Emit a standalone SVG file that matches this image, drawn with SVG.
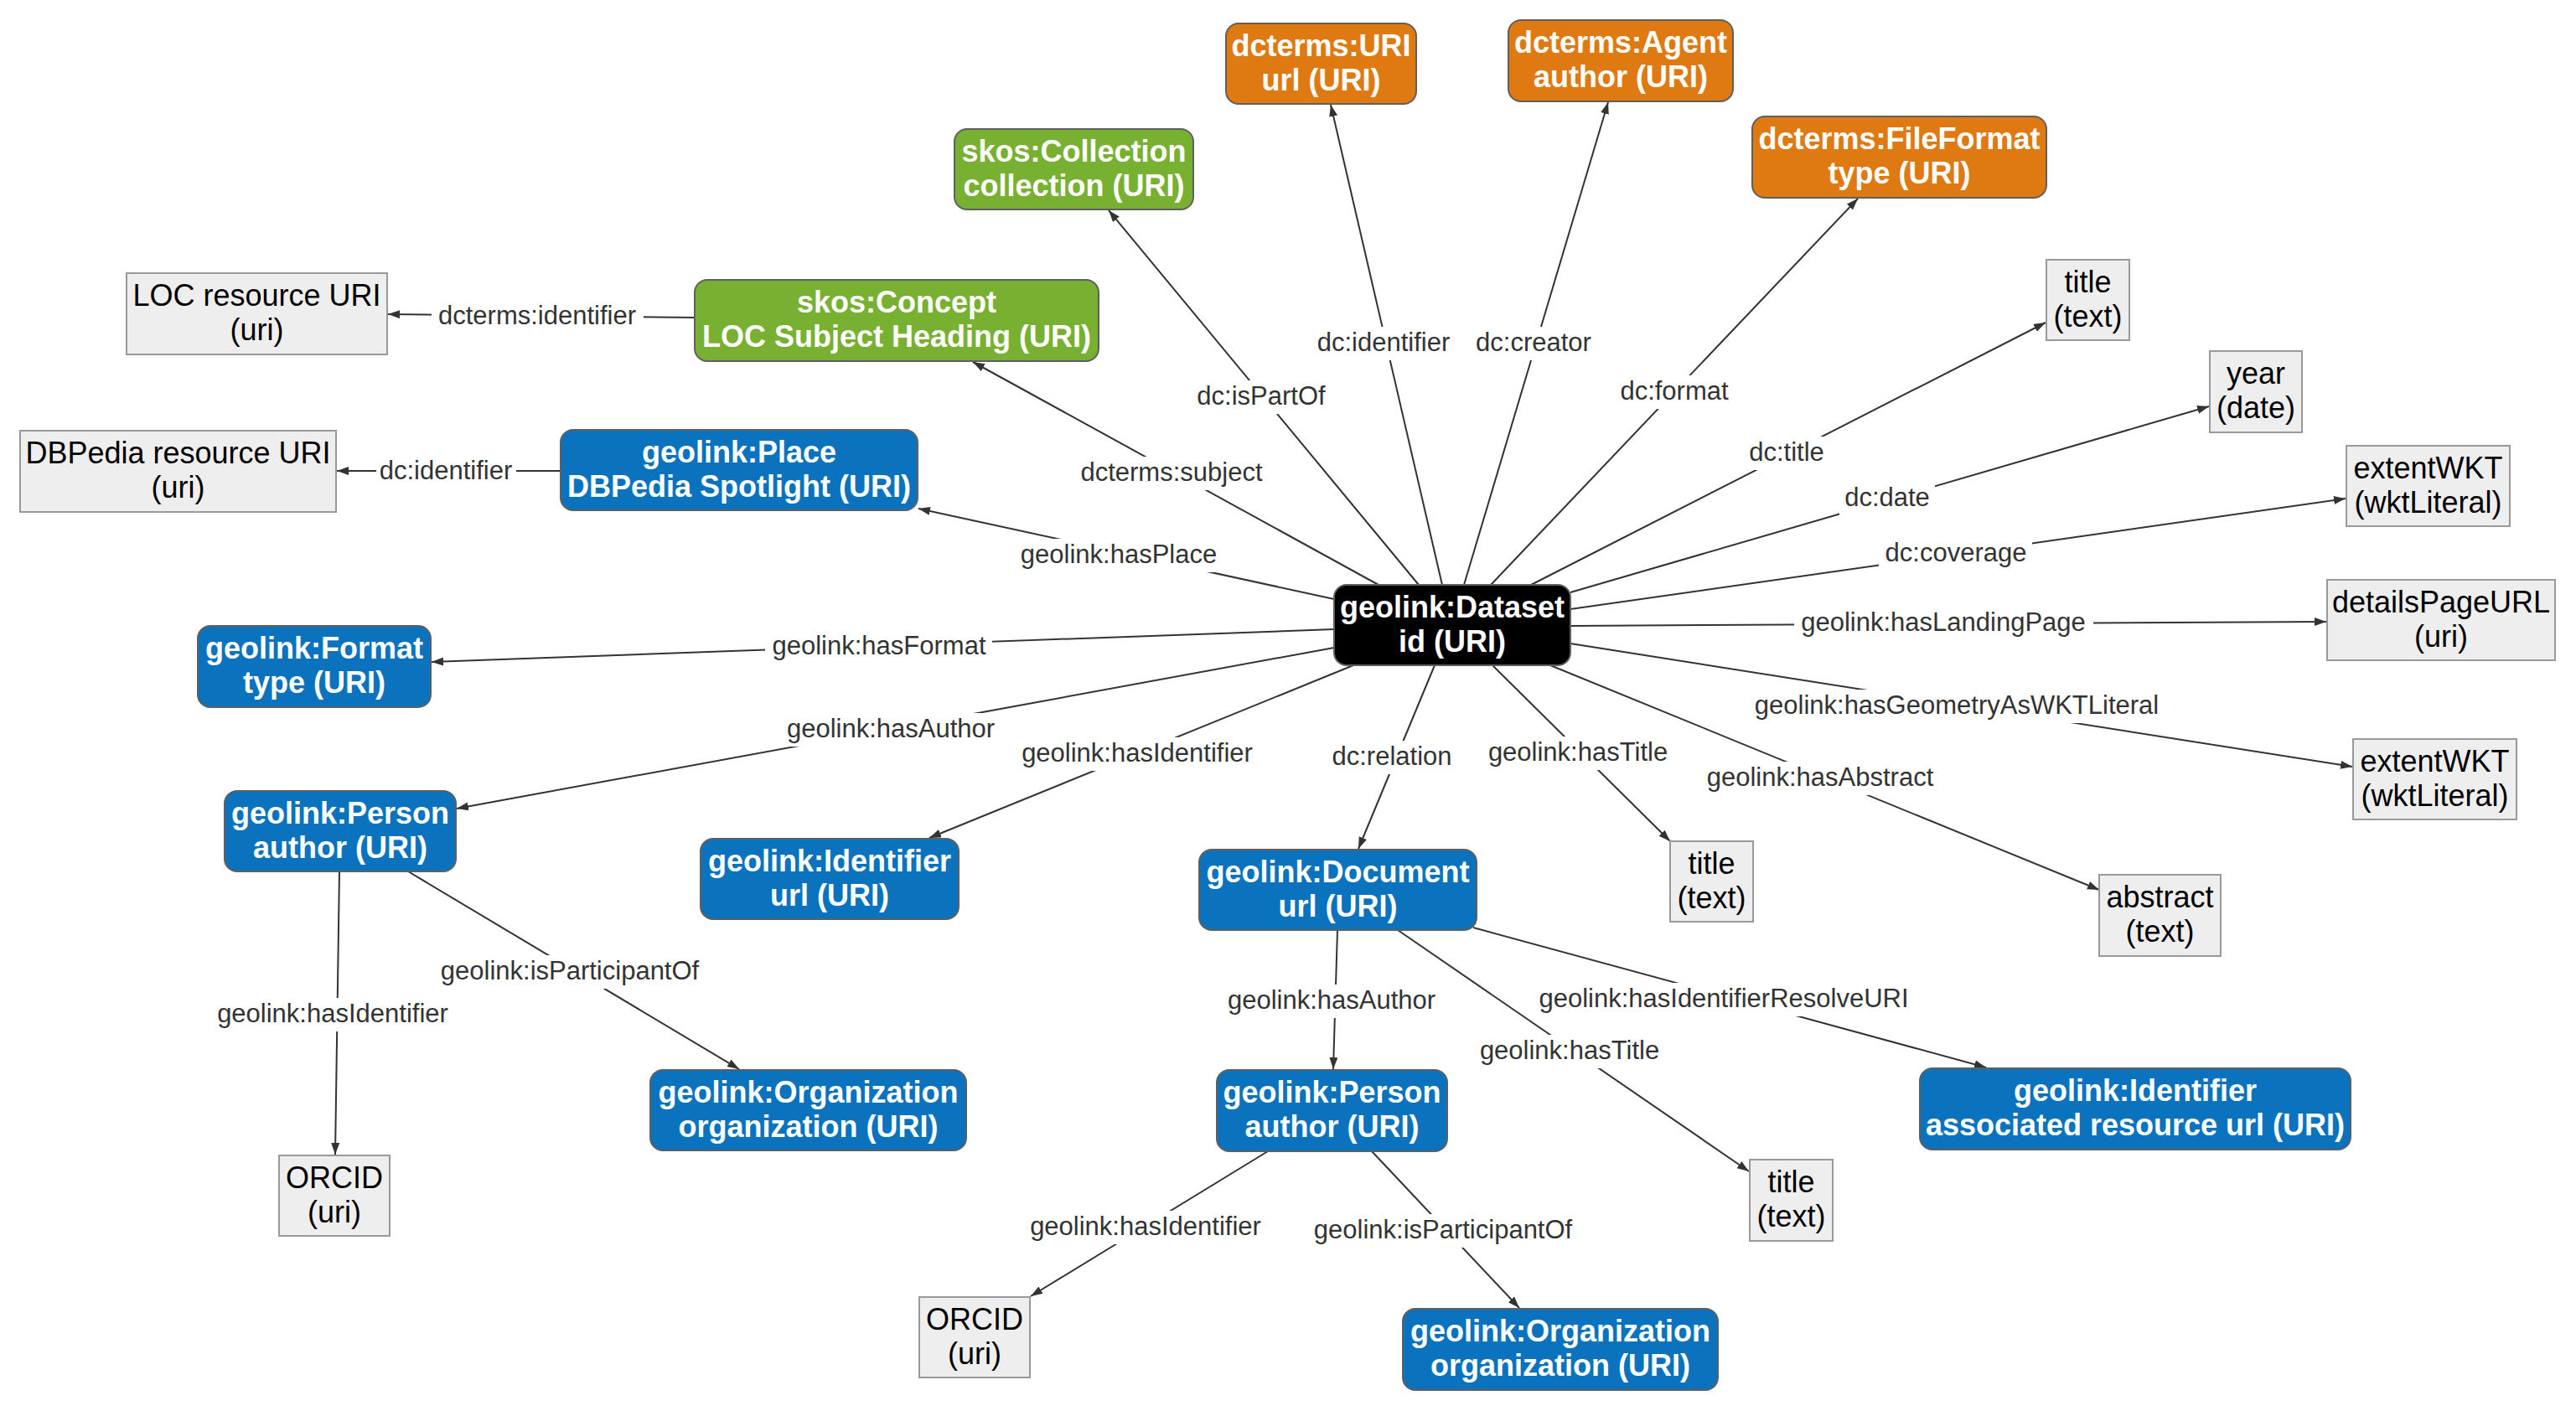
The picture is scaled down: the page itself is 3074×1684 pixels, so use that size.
<svg xmlns="http://www.w3.org/2000/svg" width="3074" height="1684" viewBox="0 0 3074 1684">
<defs>
<marker id="arr" markerUnits="userSpaceOnUse" markerWidth="16" markerHeight="12" refX="14" refY="5" orient="auto">
<path d="M0,0 L14,5 L0,10 z" fill="#333"/>
</marker>
<style>
text{font-family:"Liberation Sans",Arial,sans-serif;}
.n text{font-size:36px;text-anchor:middle;}
.c rect{stroke:#5f5f5f;stroke-width:2;}
.c text{fill:#fff;font-weight:bold;}
.orange rect{fill:#df7a12;}
.green rect{fill:#78b032;}
.blue rect{fill:#0b73be;}
.black rect{fill:#000;}
.g rect{fill:#eeeeee;stroke:#999;stroke-width:2;}
.g text{fill:#000;}
.e line{stroke:#333;stroke-width:2;marker-end:url(#arr);}
.e rect{fill:#fff;}
.e text{font-size:31px;fill:#333;text-anchor:middle;}
</style>
</defs>
<rect width="3074" height="1684" fill="#fff"/>

<g id="connectors" class="e">
<line x1="1721" y1="698" x2="1588" y2="125"/>
<line x1="1747" y1="698" x2="1919" y2="122"/>
<line x1="1693" y1="698" x2="1323" y2="251"/>
<line x1="1645" y1="698" x2="1161" y2="432"/>
<line x1="1592" y1="715" x2="1096" y2="607"/>
<line x1="1779" y1="698" x2="2217" y2="237"/>
<line x1="1827" y1="698" x2="2441" y2="385"/>
<line x1="1874" y1="707" x2="2636" y2="485"/>
<line x1="1874" y1="727" x2="2799" y2="595"/>
<line x1="1874" y1="747" x2="2776" y2="742"/>
<line x1="1874" y1="768" x2="2807" y2="915"/>
<line x1="1850" y1="794" x2="2505" y2="1062"/>
<line x1="1781" y1="794" x2="1993" y2="1004"/>
<line x1="1712" y1="794" x2="1621" y2="1013"/>
<line x1="1615" y1="794" x2="1109" y2="1000"/>
<line x1="1592" y1="773" x2="545" y2="965"/>
<line x1="1592" y1="751" x2="515" y2="790"/>
<line x1="829" y1="379" x2="463" y2="375"/>
<line x1="669" y1="562" x2="402" y2="562"/>
<line x1="405" y1="1040" x2="400" y2="1378"/>
<line x1="487" y1="1040" x2="882" y2="1276"/>
<line x1="1596" y1="1110" x2="1591" y2="1276"/>
<line x1="1668" y1="1110" x2="2087" y2="1398"/>
<line x1="1758" y1="1107" x2="2370" y2="1274"/>
<line x1="1513" y1="1374" x2="1230" y2="1547"/>
<line x1="1637" y1="1374" x2="1813" y2="1561"/>

<rect x="1565" y="390" width="173" height="40"/><text x="1651" y="419">dc:identifier</text>
<rect x="1755" y="390" width="151" height="40"/><text x="1830" y="419">dc:creator</text>
<rect x="1422" y="454" width="167" height="40"/><text x="1505" y="483">dc:isPartOf</text>
<rect x="1282" y="545" width="233" height="40"/><text x="1398" y="574">dcterms:subject</text>
<rect x="1211" y="643" width="249" height="40"/><text x="1335" y="672">geolink:hasPlace</text>
<rect x="1927" y="448" width="143" height="40"/><text x="1998" y="477">dc:format</text>
<rect x="2080" y="521" width="103" height="40"/><text x="2132" y="550">dc:title</text>
<rect x="2195" y="575" width="114" height="40"/><text x="2252" y="604">dc:date</text>
<rect x="2242" y="641" width="183" height="40"/><text x="2334" y="670">dc:coverage</text>
<rect x="2141" y="724" width="357" height="40"/><text x="2319" y="753">geolink:hasLandingPage</text>
<rect x="2085" y="823" width="500" height="40"/><text x="2335" y="852">geolink:hasGeometryAsWKTLiteral</text>
<rect x="2030" y="909" width="285" height="40"/><text x="2172" y="938">geolink:hasAbstract</text>
<rect x="1769" y="879" width="229" height="40"/><text x="1883" y="908">geolink:hasTitle</text>
<rect x="1583" y="884" width="156" height="40"/><text x="1661" y="913">dc:relation</text>
<rect x="1211" y="880" width="292" height="40"/><text x="1357" y="909">geolink:hasIdentifier</text>
<rect x="931" y="851" width="264" height="40"/><text x="1063" y="880">geolink:hasAuthor</text>
<rect x="913" y="752" width="271" height="40"/><text x="1049" y="781">geolink:hasFormat</text>
<rect x="515" y="358" width="253" height="40"/><text x="641" y="387">dcterms:identifier</text>
<rect x="449" y="543" width="167" height="40"/><text x="532" y="572">dc:identifier</text>
<rect x="251" y="1191" width="292" height="40"/><text x="397" y="1220">geolink:hasIdentifier</text>
<rect x="517" y="1140" width="326" height="40"/><text x="680" y="1169">geolink:isParticipantOf</text>
<rect x="1456" y="1175" width="265" height="40"/><text x="1589" y="1204">geolink:hasAuthor</text>
<rect x="1828" y="1173" width="458" height="40"/><text x="2057" y="1202">geolink:hasIdentifierResolveURI</text>
<rect x="1758" y="1235" width="229" height="40"/><text x="1873" y="1264">geolink:hasTitle</text>
<rect x="1221" y="1445" width="292" height="40"/><text x="1367" y="1474">geolink:hasIdentifier</text>
<rect x="1559" y="1449" width="326" height="40"/><text x="1722" y="1478">geolink:isParticipantOf</text>
</g>

<g id="n_dcterms_uri" class="n c orange"><rect x="1463" y="28" width="227" height="96" rx="15"/><text x="1576.5" y="67">dcterms:URI</text><text x="1576.5" y="108">url (URI)</text></g>
<g id="n_dcterms_agent" class="n c orange"><rect x="1800" y="24" width="268" height="97" rx="15"/><text x="1934" y="63">dcterms:Agent</text><text x="1934" y="104">author (URI)</text></g>
<g id="n_dcterms_fileformat" class="n c orange"><rect x="2091" y="139" width="351" height="97" rx="15"/><text x="2266.5" y="178">dcterms:FileFormat</text><text x="2266.5" y="219">type (URI)</text></g>
<g id="n_skos_collection" class="n c green"><rect x="1139" y="154" width="285" height="96" rx="15"/><text x="1281.5" y="193">skos:Collection</text><text x="1281.5" y="234">collection (URI)</text></g>
<g id="n_skos_concept" class="n c green"><rect x="829" y="334" width="482" height="97" rx="15"/><text x="1070" y="373">skos:Concept</text><text x="1070" y="414">LOC Subject Heading (URI)</text></g>
<g id="n_loc_uri" class="n g"><rect x="151" y="326" width="311" height="97"/><text x="306.5" y="365">LOC resource URI</text><text x="306.5" y="406">(uri)</text></g>
<g id="n_place" class="n c blue"><rect x="669" y="513" width="426" height="96" rx="15"/><text x="882" y="552">geolink:Place</text><text x="882" y="593">DBPedia Spotlight (URI)</text></g>
<g id="n_dbpedia_uri" class="n g"><rect x="24" y="514" width="377" height="97"/><text x="212.5" y="553">DBPedia resource URI</text><text x="212.5" y="594">(uri)</text></g>
<g id="n_dataset" class="n c black"><rect x="1592" y="698" width="282" height="96" rx="15"/><text x="1733" y="737">geolink:Dataset</text><text x="1733" y="778">id (URI)</text></g>
<g id="n_format" class="n c blue"><rect x="236" y="747" width="278" height="97" rx="15"/><text x="375" y="786">geolink:Format</text><text x="375" y="827">type (URI)</text></g>
<g id="n_person1" class="n c blue"><rect x="268" y="944" width="276" height="96" rx="15"/><text x="406" y="983">geolink:Person</text><text x="406" y="1024">author (URI)</text></g>
<g id="n_identifier1" class="n c blue"><rect x="836" y="1001" width="308" height="96" rx="15"/><text x="990" y="1040">geolink:Identifier</text><text x="990" y="1081">url (URI)</text></g>
<g id="n_org1" class="n c blue"><rect x="776" y="1277" width="377" height="96" rx="15"/><text x="964.5" y="1316">geolink:Organization</text><text x="964.5" y="1357">organization (URI)</text></g>
<g id="n_orcid1" class="n g"><rect x="333" y="1379" width="132" height="96"/><text x="399" y="1418">ORCID</text><text x="399" y="1459">(uri)</text></g>
<g id="n_document" class="n c blue"><rect x="1431" y="1014" width="331" height="96" rx="15"/><text x="1596.5" y="1053">geolink:Document</text><text x="1596.5" y="1094">url (URI)</text></g>
<g id="n_title2" class="n g"><rect x="1993" y="1004" width="99" height="96"/><text x="2042.5" y="1043">title</text><text x="2042.5" y="1084">(text)</text></g>
<g id="n_person2" class="n c blue"><rect x="1452" y="1277" width="275" height="97" rx="15"/><text x="1589.5" y="1316">geolink:Person</text><text x="1589.5" y="1357">author (URI)</text></g>
<g id="n_identifier2" class="n c blue"><rect x="2291" y="1275" width="514" height="97" rx="15"/><text x="2548" y="1314">geolink:Identifier</text><text x="2548" y="1355">associated resource url (URI)</text></g>
<g id="n_title3" class="n g"><rect x="2088" y="1384" width="99" height="97"/><text x="2137.5" y="1423">title</text><text x="2137.5" y="1464">(text)</text></g>
<g id="n_orcid2" class="n g"><rect x="1097" y="1548" width="132" height="96"/><text x="1163" y="1587">ORCID</text><text x="1163" y="1628">(uri)</text></g>
<g id="n_org2" class="n c blue"><rect x="1674" y="1562" width="376" height="97" rx="15"/><text x="1862" y="1601">geolink:Organization</text><text x="1862" y="1642">organization (URI)</text></g>
<g id="n_title1" class="n g"><rect x="2442" y="310" width="99" height="96"/><text x="2491.5" y="349">title</text><text x="2491.5" y="390">(text)</text></g>
<g id="n_year" class="n g"><rect x="2637" y="419" width="110" height="97"/><text x="2692" y="458">year</text><text x="2692" y="499">(date)</text></g>
<g id="n_extent1" class="n g"><rect x="2800" y="532" width="195" height="96"/><text x="2897.5" y="571">extentWKT</text><text x="2897.5" y="612">(wktLiteral)</text></g>
<g id="n_details" class="n g"><rect x="2777" y="692" width="272" height="96"/><text x="2913" y="731">detailsPageURL</text><text x="2913" y="772">(uri)</text></g>
<g id="n_extent2" class="n g"><rect x="2808" y="882" width="195" height="96"/><text x="2905.5" y="921">extentWKT</text><text x="2905.5" y="962">(wktLiteral)</text></g>
<g id="n_abstract" class="n g"><rect x="2505" y="1044" width="145" height="97"/><text x="2577.5" y="1083">abstract</text><text x="2577.5" y="1124">(text)</text></g>
</svg>
